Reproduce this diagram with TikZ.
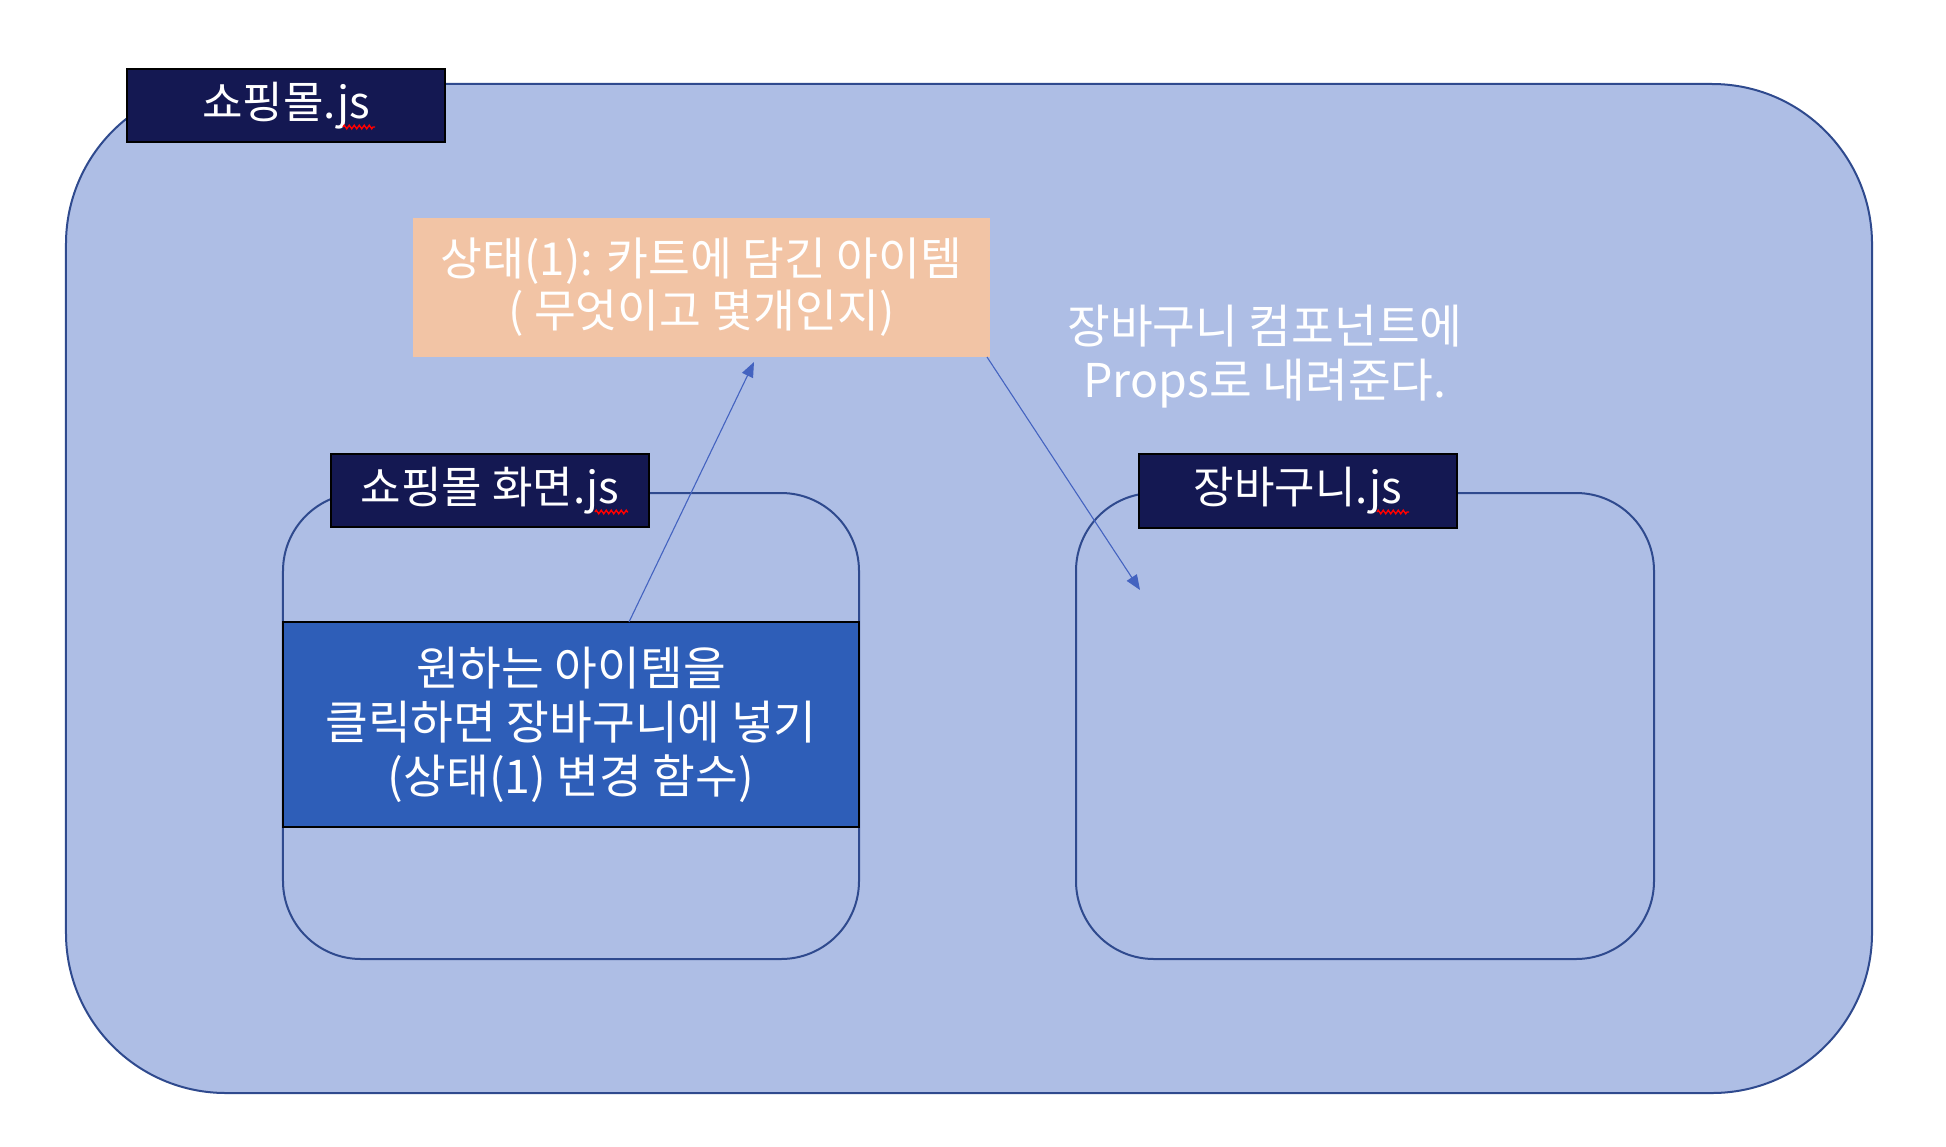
\documentclass[tikz,border=0pt]{standalone}
\usepackage{fontspec}
\setmainfont{Noto Sans CJK KR}
\usetikzlibrary{arrows.meta,decorations.pathmorphing}
\definecolor{outerfill}{HTML}{AEBEE5}
\definecolor{outerline}{HTML}{2F4A8E}
\definecolor{navy}{HTML}{141852}
\definecolor{bluebox}{HTML}{2E5EB8}
\definecolor{peach}{HTML}{F2C4A5}
\definecolor{arrowc}{HTML}{4463C0}
\tikzset{
  panel/.style={draw=outerline, fill=outerfill, line width=2bp, inner sep=0pt, outer sep=0pt},
  titlebox/.style={draw=black, fill=navy, line width=2.5bp, inner sep=0pt, outer sep=0pt, text=white, font=\fontsize{44bp}{52bp}\selectfont},
  txt/.style={text=white, align=center, font=\fontsize{46.5bp}{54bp}\selectfont},
  conn/.style={draw=arrowc, line width=1.1bp, -{Triangle[length=15bp,width=12bp]}},
  squig/.style={draw=red, line width=1.4bp, decorate, decoration={zigzag, segment length=5bp, amplitude=1.8bp}}
}
\begin{document}
\begin{tikzpicture}[x=1bp,y=-1bp]
\useasboundingbox[fill=white] (0,0) rectangle (1946,1146);
% outer panel
\node[panel, rounded corners=160bp, minimum width=1806bp, minimum height=1009bp] (mall) at (969,588.5) {};
% inner panels
\node[panel, rounded corners=78bp, minimum width=576bp, minimum height=466bp] (screen) at (571,726) {};
\node[panel, rounded corners=78bp, minimum width=578bp, minimum height=466bp] (cart) at (1365,726) {};
% blue action box
\node[draw=black, fill=bluebox, line width=2bp, inner sep=0pt, outer sep=0pt, minimum width=576bp, minimum height=205bp, txt] (blue) at (571,724.5) {원하는 아이템을\\클릭하면 장바구니에 넣기\\(상태(1) 변경 함수)};
% titles
\node[titlebox, minimum width=318bp, minimum height=73bp] (t1) at (286,105.5) {쇼핑몰.js};
\node[titlebox, minimum width=318bp, minimum height=73bp] (t2) at (490,490.5) {쇼핑몰 화면.js};
\node[titlebox, minimum width=318bp, minimum height=74bp] (t3) at (1298,491) {장바구니.js};
% state box
\node[fill=peach, inner sep=0pt, outer sep=0pt, minimum width=577bp, minimum height=139bp, txt, font=\fontsize{45.5bp}{52bp}\selectfont] (state) at (701.5,287.5) {상태(1): 카트에 담긴 아이템\\( 무엇이고 몇개인지)};
% props text
\node[txt] (props) at (1265,357) {장바구니 컴포넌트에\\Props로 내려준다.};
% spellcheck squiggles
\coordinate (s1a) at (343,127); \coordinate (s1b) at (375,127);
\coordinate (s2a) at (595,512); \coordinate (s2b) at (628,512);
\coordinate (s3a) at (1377,512); \coordinate (s3b) at (1409,512);
\draw[squig] (s1a) -- (s1b);
\draw[squig] (s2a) -- (s2b);
\draw[squig] (s3a) -- (s3b);
% connectors
\coordinate (a1e) at (754,362);
\coordinate (a2e) at (1140,590);
\draw[conn] ([xshift=58bp]blue.north) -- (a1e);
\draw[conn] ([xshift=-3bp]state.south east) -- (a2e);
\end{tikzpicture}
\end{document}
